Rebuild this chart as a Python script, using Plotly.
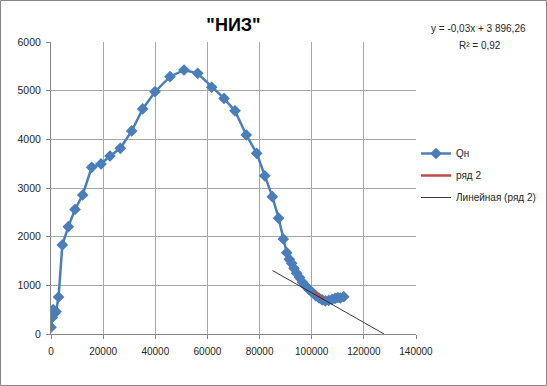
import plotly.graph_objects as go

# Qн series (x = cumulative value, y = rate)
qn_x = [0, 500, 800, 1500, 1900, 2900, 4350, 6650, 9200, 12150, 15600, 19180,
        22630, 26600, 30950, 35170, 39900, 45650, 51020, 56270, 61650, 66360,
        70580, 74900, 78900, 82000, 84900, 87300, 89100, 90400, 91400, 92300,
        93200, 94200, 95300, 96500, 97800, 99000, 100300, 101500, 102800,
        104000, 105200, 106500, 107800, 109000, 110000, 111000, 112300]
qn_y = [140, 340, 500, 430, 460, 760, 1830, 2205, 2560, 2856, 3425, 3494,
        3658, 3816, 4172, 4624, 4979, 5287, 5425, 5357, 5070, 4840,
        4585, 4089, 3713, 3250, 2822, 2380, 1952, 1671, 1535, 1453,
        1350, 1250, 1160, 1060, 980, 910, 850, 790, 740,
        700, 680, 690, 710, 730, 750, 740, 765]

# ряд 2 series
r2_x = [100600, 102500, 104800]
r2_y = [860, 790, 715]

# linear trend of ряд 2 (shown as y = -0,03x + 3 896,26)
trend_slope = -0.0305
trend_intercept = 3896.26
trend_x = [85000, 127750]
trend_y = [trend_slope * v + trend_intercept for v in trend_x]

x_ticks = [0, 20000, 40000, 60000, 80000, 100000, 120000, 140000]
y_ticks = [0, 1000, 2000, 3000, 4000, 5000, 6000]

title_text = '"НИЗ"'
eq_text = "y = -0,03x + 3 896,26"
r2_text = "R² = 0,92"

BLUE = "#4A7EBB"
RED = "#BE4B48"
GRID = "#a6a6a6"
FONT = "Liberation Sans"

fig = go.Figure()
fig.add_trace(go.Scatter(x=qn_x, y=qn_y, mode="lines+markers", name="Qн",
                         legendgroup="a",
                         line=dict(color=BLUE, width=2.5),
                         marker=dict(symbol="diamond", size=9, color=BLUE)))
fig.add_trace(go.Scatter(x=r2_x, y=r2_y, mode="lines", name="ряд 2",
                         legendgroup="b",
                         line=dict(color=RED, width=2.5)))
fig.add_trace(go.Scatter(x=trend_x, y=trend_y, mode="lines",
                         name="Линейная (ряд 2)", legendgroup="c",
                         line=dict(color="#262626", width=0.9)))

W, H = 547, 386
L, R, T, B = 51, 131, 42, 52
pw, ph = W - L - R, H - T - B

def px(xp):
    return (xp - L) / pw

def py(yp):
    return (H - B - yp) / ph

fig.update_layout(
    width=W, height=H,
    margin=dict(l=L, r=R, t=T, b=B, autoexpand=False),
    paper_bgcolor="white", plot_bgcolor="white",
    font=dict(family=FONT, size=10, color="#262626"),
    title=dict(text=title_text, x=px(233.5), xref="paper", xanchor="center",
               y=1 - 24.5 / H, yref="container", yanchor="middle",
               font=dict(family=FONT, size=18, color="black",
                         weight="bold")),
    showlegend=True,
    legend=dict(x=px(416), y=py(139), xanchor="left", yanchor="top",
                font=dict(family=FONT, size=10, color="#262626"),
                tracegroupgap=3, bgcolor="rgba(0,0,0,0)",
                itemwidth=30),
    xaxis=dict(range=[0, 140000], tickvals=x_ticks,
               ticktext=[str(v) for v in x_ticks], automargin=False,
               showgrid=True, gridcolor=GRID, gridwidth=1,
               zeroline=False, showline=True, linecolor="#868686",
               ticks="outside", ticklen=4, tickcolor="#868686",
               ticklabelstandoff=4, fixedrange=True),
    yaxis=dict(range=[0, 6000], tickvals=y_ticks,
               ticktext=[str(v) for v in y_ticks], automargin=False,
               showgrid=True, gridcolor=GRID, gridwidth=1,
               zeroline=False, showline=True, linecolor="#868686",
               ticks="outside", ticklen=4, tickcolor="#868686",
               ticklabelstandoff=3, fixedrange=True,
               tickfont=dict(size=10.5)),
    annotations=[
        dict(text=eq_text, xref="paper", yref="paper", x=px(478), y=py(28),
             xanchor="center", yanchor="middle", showarrow=False,
             font=dict(family=FONT, size=10, color="#262626")),
        dict(text=r2_text, xref="paper", yref="paper", x=px(480), y=py(45),
             xanchor="center", yanchor="middle", showarrow=False,
             font=dict(family=FONT, size=10, color="#262626")),
    ],
    shapes=[dict(type="rect", xref="paper", yref="paper",
                 x0=px(0.5), x1=px(W - 0.5), y0=py(H - 0.5), y1=py(0.5),
                 line=dict(color="#868686", width=1), layer="below")],
)

fig.write_html("out.html",
               config={"displayModeBar": False, "staticPlot": True},
               post_script="document.body.style.margin='0';"
                           "document.body.style.overflow='hidden';")
